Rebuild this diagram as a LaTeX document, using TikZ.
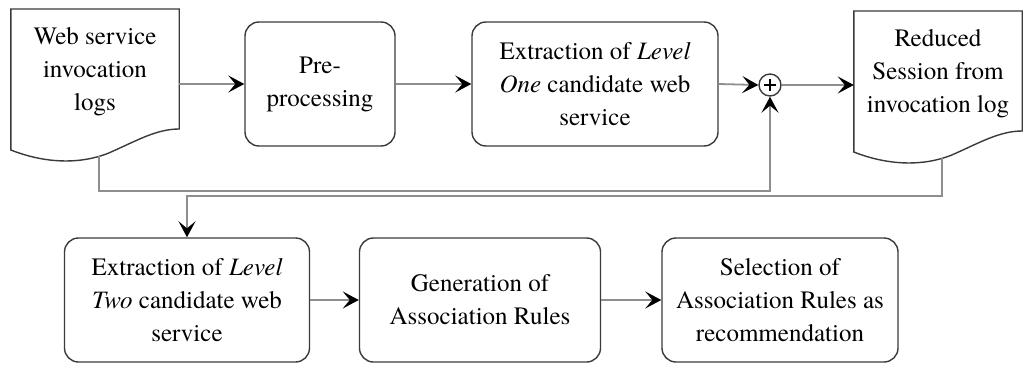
\documentclass[tikz,border=0pt]{standalone}
\usepackage{fontspec}
\setmainfont{texgyretermes}[Extension=.otf, UprightFont=*-regular, ItalicFont=*-italic, BoldFont=*-bold]
\usepackage{xcolor}
\usetikzlibrary{arrows.meta,calc}

\definecolor{boxgray}{HTML}{3A3A3A}
\definecolor{edgegray}{HTML}{8E8E8E}

\tikzset{
  stepbox/.style={draw=boxgray, line width=1.4pt, rounded corners=14pt,
    align=center, minimum height=124pt, inner sep=0pt},
  docnode/.style={minimum width=168pt, align=center, inner sep=0pt},
  docline/.style={draw=boxgray, line width=1.4pt},
  flow/.style={draw=edgegray, line width=1.8pt,
    -{Stealth[length=16pt, width=17pt, inset=7pt, color=black]}},
}

% document outline round a doc node: straight top, wavy bottom
\newcommand\docoutline[1]{%
  \draw[docline] ($(#1.west)+(0,78)$)
    .. controls ($(#1.west)+(33,91)$) and ($(#1.west)+(68,93)$) .. ($(#1.west)+(98,81)$)
    .. controls ($(#1.east)+(-43,69)$) and ($(#1.east)+(-23,57)$) .. ($(#1.east)+(0,57)$)
    -- ($(#1.east)+(0,-63)$) -- ($(#1.west)+(0,-63)$) -- cycle;
  \coordinate (#1-foot) at ($(#1.west)+(88,84)$);
}

\begin{document}
\begin{tikzpicture}[x=1pt, y=-1pt, font=\fontsize{25}{33}\selectfont]
\useasboundingbox (0,0) rectangle (1025,364);

% top row
\node[docnode] (logs) at (95,72) {Web service\\invocation\\logs};
\docoutline{logs}
\node[stepbox, minimum width=150pt] (prep) at (320,84) {Pre-\\processing};
\node[stepbox, minimum width=246pt] (lvlone) at (595,84) {Extraction of \textit{Level}\\\textit{One} candidate web\\service};
\node[circle, draw=boxgray, line width=1.4pt, minimum size=22pt, inner sep=0pt,
  path picture={
    \draw[black, line width=2pt] ([xshift=-6pt]path picture bounding box.center) -- ([xshift=6pt]path picture bounding box.center);
    \draw[black, line width=2pt] ([yshift=-6pt]path picture bounding box.center) -- ([yshift=6pt]path picture bounding box.center);
  }] (sum) at (770,85) {};
\node[docnode] (reduced) at (938,74) {Reduced\\Session from\\invocation log};
\docoutline{reduced}

% bottom row
\node[stepbox, minimum width=245pt] (lvltwo) at (187,300) {Extraction of \textit{Level}\\\textit{Two} candidate web\\service};
\node[stepbox, minimum width=241pt] (gen) at (480,300) {Generation of\\Association Rules};
\node[stepbox, minimum width=236pt] (sel) at (780,300) {Selection of\\Association Rules as\\recommendation};

% connectors
\draw[flow] (logs.east |- prep.west) -- (prep.west);
\draw[flow] (prep.east) -- (lvlone.west);
\draw[flow] (lvlone.east) -- (sum.west);
\draw[flow] (sum.east) -- (reduced.west |- sum.east);
\draw[flow] (logs-foot) |- ($(sum.south)+(0,94)$) -- (sum.south);
\draw[flow] (reduced-foot) |- ($(lvltwo.north)+(0,-41)$) -- (lvltwo.north);
\draw[flow] (lvltwo.east) -- (gen.west);
\draw[flow] (gen.east) -- (sel.west);
\end{tikzpicture}
\end{document}
